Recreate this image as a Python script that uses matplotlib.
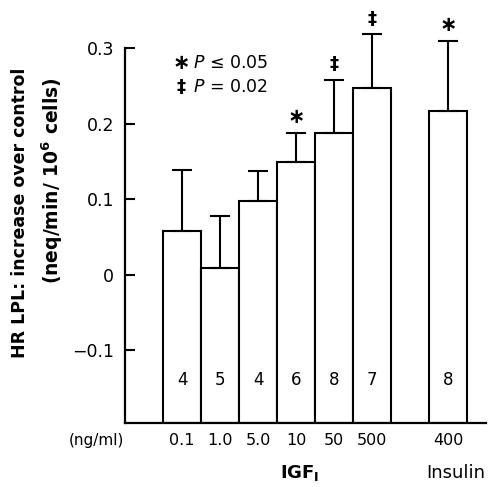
import matplotlib
matplotlib.use("Agg")
import matplotlib.pyplot as plt

plt.rcParams['font.family'] = ['DejaVu Sans']

# ---- data ----
doses = ["0.1", "1.0", "5.0", "10", "50", "500", "400"]
groups = ["IGF1"] * 6 + ["Insulin"]
values = [0.058, 0.009, 0.097, 0.149, 0.187, 0.247, 0.217]
errors = [0.080, 0.069, 0.040, 0.039, 0.071, 0.071, 0.092]
n_counts = ["4", "5", "4", "6", "8", "7", "8"]
signif = ["", "", "", "∗", "‡", "‡", "∗"]
yticks = [0.3, 0.2, 0.1, 0.0, -0.1]
ytick_labels = ["0.3", "0.2", "0.1", "0", "−0.1"]
positions = [0, 1, 2, 3, 4, 5, 7]

ymin, ymax = -0.196, 0.3

fig = plt.figure(figsize=(4.95, 4.87), dpi=100)
ax = fig.add_axes([125/495, 1-423/487, (486-125)/495, (423-48)/487])

heights = [v - ymin for v in values]
ax.bar(positions, heights, bottom=ymin, width=1.0, color="white",
       edgecolor="black", linewidth=1.5, zorder=2)
ax.errorbar(positions, values, yerr=[[0]*len(values), errors], fmt="none",
            ecolor="black", elinewidth=1.5, capsize=7, capthick=1.5,
            zorder=3, clip_on=False)

for p, v, e, s in zip(positions, values, errors, signif):
    if s:
        ax.text(p, v + e + 0.021, s, ha="center", va="center",
                fontsize=15 if s == "∗" else 13, fontweight="bold",
                clip_on=False)

for p, n in zip(positions, n_counts):
    ax.text(p, -0.139, n, ha="center", va="center", fontsize=12)

ax.set_xlim(-1.5, 8.0)
ax.set_ylim(ymin, ymax)
ax.spines["top"].set_visible(False)
ax.spines["right"].set_visible(False)
ax.spines["left"].set_linewidth(1.6)
ax.spines["bottom"].set_linewidth(1.6)
ax.set_yticks(yticks)
ax.set_yticklabels(ytick_labels, fontsize=12.5)
ax.tick_params(axis="y", direction="in", length=7, width=1.5, pad=8)
ax.set_xticks(positions)
ax.set_xticklabels(doses, fontsize=11.5)
ax.tick_params(axis="x", length=0, pad=7)

# legend text
ax.text(-0.03, 0.280, "∗", fontsize=15, fontweight="bold", ha="center", va="center")
ax.text(0.30, 0.280, r"$\it{P}$ ≤ 0.05", fontsize=12.5, ha="left", va="center")
ax.text(-0.03, 0.249, "‡", fontsize=13, fontweight="bold", ha="center", va="center")
ax.text(0.30, 0.249, r"$\it{P}$ = 0.02", fontsize=12.5, ha="left", va="center")

# x labels
fig.text(96/495, 1-440/487, "(ng/ml)", fontsize=11, ha="center", va="center")
fig.text(300/495, 1-473/487, r"IGF$_\mathregular{I}$", fontsize=13, fontweight="bold",
         ha="center", va="center")
fig.text(456/495, 1-473/487, "Insulin", fontsize=13, ha="center", va="center")

# y label
fig.text(20/495, 1-213/487, "HR LPL: increase over control", rotation=90,
         fontsize=12.5, fontweight="bold", ha="center", va="center")
fig.text(52/495, 1-181/487, r"(neq/min/ 10$^\mathregular{6}$ cells)", rotation=90,
         fontsize=13.5, fontweight="bold", ha="center", va="center")

fig.savefig("out.png", dpi=100)
